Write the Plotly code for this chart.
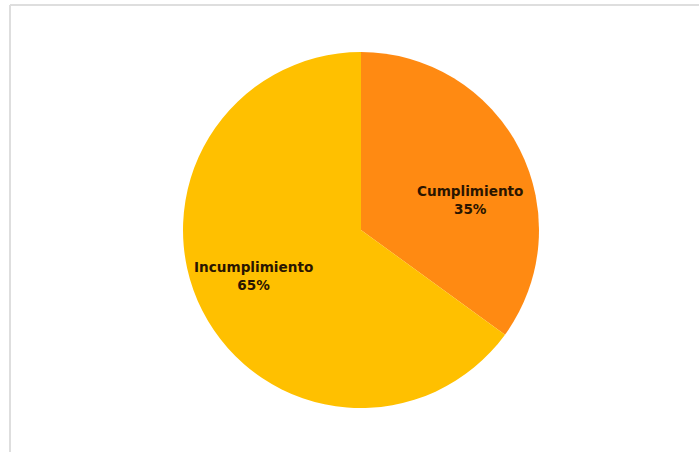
import plotly.graph_objects as go

labels = ["Cumplimiento", "Incumplimiento"]
values = [35, 65]
colors = ["#FF8A12", "#FFC000"]
# label block centres (pixels in the 699x452 canvas)
label_px = [(470, 200), (254, 276)]

W, H = 699, 452
cx, cy, r = 361, 230, 178

fig = go.Figure(go.Pie(
    labels=labels,
    values=values,
    sort=False,
    direction="clockwise",
    rotation=0,
    marker=dict(colors=colors, line=dict(width=0)),
    textinfo="none",
    hoverinfo="skip",
    domain=dict(x=[(cx - r) / W, (cx + r) / W], y=[(H - cy - r) / H, (H - cy + r) / H]),
))

total = sum(values)
annotations = []
for lab, val, (px, py) in zip(labels, values, label_px):
    annotations.append(dict(
        x=px / W, y=1 - py / H, xref="paper", yref="paper",
        xanchor="center", yanchor="middle", showarrow=False,
        text=f"<b>{lab}</b><br><b>{round(100 * val / total)}%</b>",
        font=dict(family="DejaVu Sans", size=13.6, color="#2a1500"),
    ))

fig.update_layout(
    width=W, height=H,
    margin=dict(l=0, r=0, t=0, b=0),
    paper_bgcolor="white",
    showlegend=False,
    annotations=annotations,
    shapes=[
        dict(type="line", xref="paper", yref="paper", x0=10 / W, x1=1.0, y0=1 - 5 / H, y1=1 - 5 / H,
             line=dict(color="#dedede", width=2)),
        dict(type="line", xref="paper", yref="paper", x0=10 / W, x1=10 / W, y0=0, y1=1 - 5 / H,
             line=dict(color="#dedede", width=2)),
    ],
)

fig.write_html("out.html")
